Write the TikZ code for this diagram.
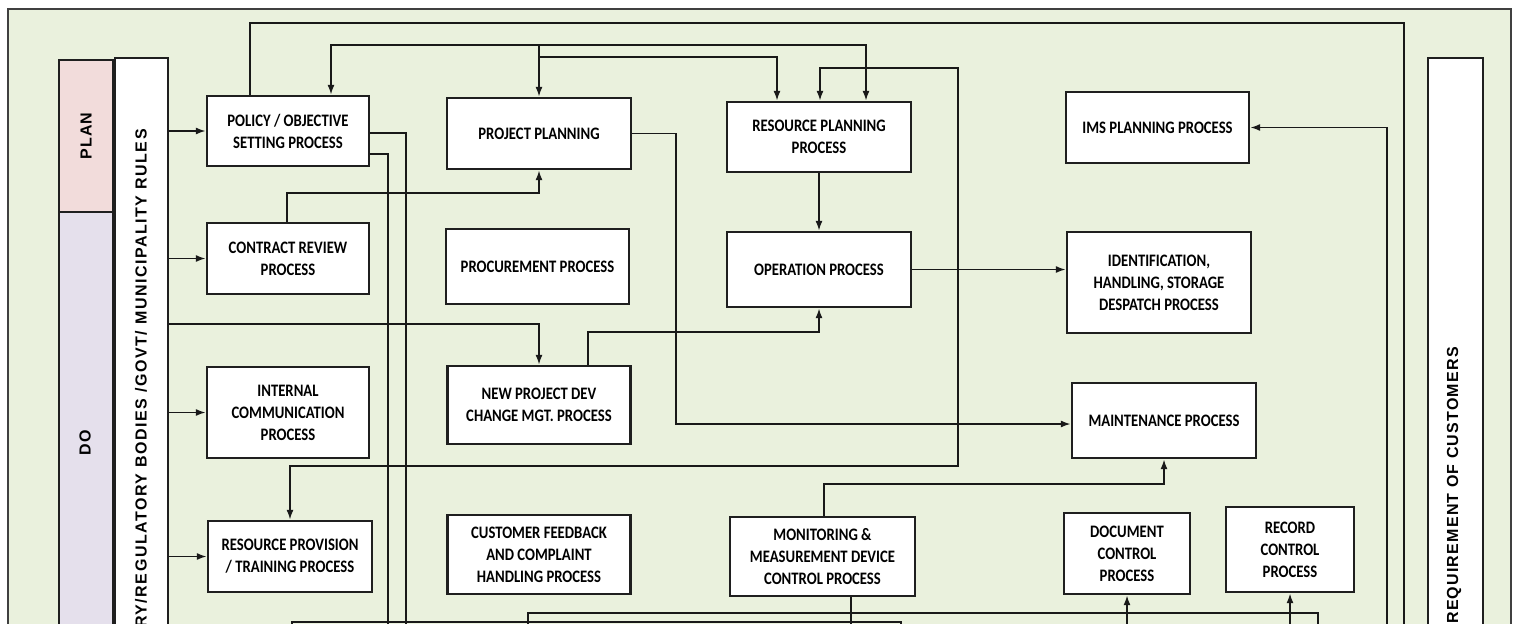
\documentclass[tikz,border=0pt]{standalone}
\usepackage{fontspec}
\usetikzlibrary{arrows.meta}
\newfontfamily\procfamily[FakeStretch=0.84]{Carlito}
\newfontfamily\sidefamily[LetterSpace=7.5]{Liberation Sans}
\newfontfamily\regfamily[LetterSpace=9.5]{Liberation Sans}
\newcommand\procfont{\procfamily\bfseries\fontsize{17.5}{22}\selectfont}
\newcommand\sidelabelfont{\sidefamily\bfseries\fontsize{16}{19}\selectfont}
\newcommand\reglabelfont{\regfamily\bfseries\fontsize{16}{19}\selectfont}
\definecolor{bgGreen}{HTML}{EAF1DD}
\definecolor{planPink}{HTML}{F2DCDB}
\definecolor{doLilac}{HTML}{E5E0EC}

\begin{document}
\begin{tikzpicture}[x=1pt,y=-1pt,
  procbox/.style={draw=black!88, fill=white, line width=2.2pt, inner sep=0pt, align=center, font=\procfont},
  link/.style={line width=1.9pt, draw=black!90},
  arr/.style={link, -{Latex[length=10pt,width=7pt]}},
  dblarr/.style={link, {Latex[length=10pt,width=7pt]}-{Latex[length=10pt,width=7pt]}},
  bar/.style={draw=black!88, line width=2.2pt, inner sep=0pt, anchor=north west},
  sidelabel/.style={font=\sidelabelfont, inner sep=0pt, rotate=90}]

\useasboundingbox (0,0) rectangle (1519,624);
\fill[white] (0,0) rectangle (1519,624);
\clip (0,0) rectangle (1519,624);

% outer frame
\draw[draw=black!75, line width=2.2pt, fill=bgGreen] (8,9) rectangle (1511,700);

% side bars
\node[bar, fill=planPink, minimum width=54, minimum height=152] (plan) at (58,59) {};
\node[bar, fill=doLilac, minimum width=54, minimum height=500] (do) at (58,211) {};
\node[bar, fill=white, minimum width=53, minimum height=650] (reg) at (114,57) {};
\node[bar, fill=white, minimum width=55, minimum height=650] (cust) at (1427,57) {};

\node[sidelabel] (planlbl) at (plan.center) {PLAN};
\node[sidelabel] (dolbl) at (85,443) {DO};
\node[sidelabel, font=\reglabelfont, anchor=east] (reglbl) at (141,129) {RY/REGULATORY BODIES /GOVT/ MUNICIPALITY RULES};
\node[sidelabel, anchor=east] (custlbl) at (1454,347) {REQUIREMENT OF CUSTOMERS};

% process boxes
\node[procbox, minimum width=162, minimum height=70] (policy) at (288,131) {POLICY / OBJECTIVE\\SETTING PROCESS};
\node[procbox, minimum width=184, minimum height=71] (projplan) at (539,133.5) {PROJECT PLANNING};
\node[procbox, minimum width=184, minimum height=70] (resplan) at (819,137) {RESOURCE PLANNING\\PROCESS};
\node[procbox, minimum width=183, minimum height=71] (ims) at (1157.5,127.5) {IMS PLANNING PROCESS};
\node[procbox, minimum width=162, minimum height=71] (contract) at (288,258.5) {CONTRACT REVIEW\\PROCESS};
\node[procbox, minimum width=183, minimum height=75] (procure) at (537.5,266.5) {PROCUREMENT PROCESS};
\node[procbox, minimum width=184, minimum height=75] (operation) at (819,269.5) {OPERATION PROCESS};
\node[procbox, minimum width=184, minimum height=101] (ident) at (1159,282.5) {IDENTIFICATION,\\HANDLING, STORAGE\\DESPATCH PROCESS};
\node[procbox, minimum width=162, minimum height=91] (internal) at (288,412.5) {INTERNAL\\COMMUNICATION\\PROCESS};
\node[procbox, minimum width=183, minimum height=78] (newproj) at (539,405) {NEW PROJECT DEV\\CHANGE MGT. PROCESS};
\node[procbox, minimum width=184, minimum height=75] (maint) at (1164,420.5) {MAINTENANCE PROCESS};
\node[procbox, minimum width=164, minimum height=71] (resprov) at (290,556.5) {RESOURCE PROVISION\\/ TRAINING PROCESS};
\node[procbox, minimum width=183, minimum height=79] (custfb) at (539,554.5) {CUSTOMER FEEDBACK\\AND COMPLAINT\\HANDLING PROCESS};
\node[procbox, minimum width=185, minimum height=79] (monitor) at (822.5,556.5) {MONITORING \&\\MEASUREMENT DEVICE\\CONTROL PROCESS};
\node[procbox, minimum width=126, minimum height=81] (doc) at (1127,553.5) {DOCUMENT\\CONTROL\\PROCESS};
\node[procbox, minimum width=128, minimum height=85] (record) at (1290,549.5) {RECORD\\CONTROL\\PROCESS};

% helper points
\coordinate (j1) at (539,45);
\coordinate (j2) at (539,57);
\coordinate (loopA) at (958,466);
\coordinate (loopB) at (958,68);
\coordinate (crY) at (0,193);
\coordinate (npY) at (0,324);
\coordinate (noY) at (0,332);
\coordinate (pm) at (676,424);
\coordinate (mmY) at (0,484);
\coordinate (bottomY) at (0,650);
\coordinate (imsFeed) at (1387,650);
\coordinate (topRun) at (1404,23);
\coordinate (topRunEnd) at (1404,650);
\coordinate (polA) at (406,650);
\coordinate (polB) at (388,650);
\coordinate (monOut) at (851,650);
\coordinate (b1s) at (528,650);
\coordinate (b1e) at (1318,650);
\coordinate (b1y) at (0,613);
\coordinate (b2s) at (292,650);
\coordinate (b2e) at (901,650);
\coordinate (b2y) at (0,622);

% inputs from the regulatory bar
\draw[arr] (reg.east |- policy.west) -- (policy.west);
\draw[arr] (reg.east |- contract.west) -- (contract.west);
\draw[arr] (reg.east |- internal.west) -- (internal.west);
\draw[arr] (reg.east |- resprov.west) -- (resprov.west);
\draw[arr] (reg.east |- npY) -| (newproj.north);

% top distribution
\draw[arr] (j1) -| ([xshift=43]policy.north);
\draw[arr] (j1) -- (projplan.north);
\draw[arr] (j1) -| ([xshift=47]resplan.north);
\draw[arr] (j2) -| ([xshift=-42]resplan.north);
\draw[dblarr] (resprov.north) |- (loopA) -- (loopB) -| ([xshift=1]resplan.north);

% policy outputs
\draw[link] ([xshift=-38]policy.north) |- (topRun) -- (topRunEnd);
\draw[link] ([yshift=-2]policy.east) -| (polA);
\draw[link] ([yshift=-23]policy.east) -| (polB);

% process links
\draw[arr] ([xshift=-1]contract.north) |- (projplan.south |- crY) -- (projplan.south);
\draw[arr] ([xshift=49]newproj.north) |- (operation.south |- noY) -- (operation.south);
\draw[arr] (resplan.south) -- (operation.north);
\draw[arr] (operation.east) -- (ident.west |- operation.east);
\draw[arr] (projplan.east) -| (pm) -- (maint.west |- pm);
\draw[arr] ([xshift=1.5]monitor.north) |- (maint.south |- mmY) -- (maint.south);
\draw[arr] (imsFeed) |- (ims.east);

% lower runs
\draw[link] (monitor.south -| monOut) -- (monOut);
\draw[link] (b1s) |- (b1e |- b1y) -- (b1e);
\draw[link] (b2s) |- (b2e |- b2y) -- (b2e);
\draw[arr] (doc.south |- bottomY) -- (doc.south);
\draw[arr] (record.south |- bottomY) -- (record.south);
\end{tikzpicture}
\end{document}
